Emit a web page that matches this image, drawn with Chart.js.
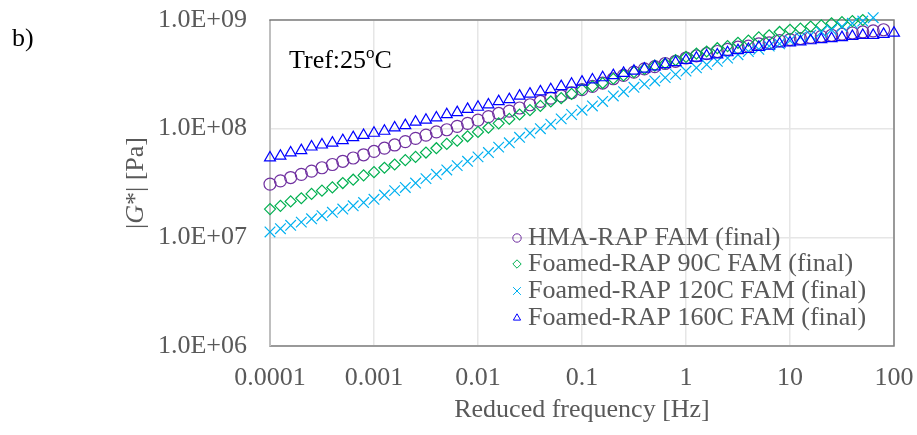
<!DOCTYPE html>
<html>
<head>
<meta charset="utf-8">
<script src="https://cdn.jsdelivr.net/npm/chart.js"></script>
<style>
  body { margin: 0; background: #fff; }
  canvas { display: block; }
</style>
</head>
<body>
<canvas id="gChart" width="917" height="435"></canvas>
<script>
// |G*| master curves, Tref 25C

const freq = [
  1.00e-4, 1.26e-4, 1.58e-4, 2.00e-4, 2.51e-4, 3.16e-4, 3.98e-4, 5.01e-4, 6.31e-4, 7.94e-4,
  1.00e-3, 1.26e-3, 1.58e-3, 2.00e-3, 2.51e-3, 3.16e-3, 3.98e-3, 5.01e-3, 6.31e-3, 7.94e-3,
  1.00e-2, 1.26e-2, 1.58e-2, 2.00e-2, 2.51e-2, 3.16e-2, 3.98e-2, 5.01e-2, 6.31e-2, 7.94e-2,
  1.00e-1, 1.26e-1, 1.58e-1, 2.00e-1, 2.51e-1, 3.16e-1, 3.98e-1, 5.01e-1, 6.31e-1, 7.94e-1,
  1.00, 1.26, 1.58, 2.00, 2.51, 3.16, 3.98, 5.01, 6.31, 7.94,
  10.0, 12.6, 15.8, 20.0, 25.1, 31.6, 39.8, 50.1, 63.1, 79.4,
  100
];

const hmaRap = [
  3.09e7, 3.31e7, 3.55e7, 3.80e7, 4.07e7, 4.37e7, 4.68e7, 5.01e7, 5.37e7, 5.75e7,
  6.17e7, 6.61e7, 7.08e7, 7.59e7, 8.13e7, 8.71e7, 9.33e7, 9.77e7, 1.05e8, 1.12e8,
  1.20e8, 1.29e8, 1.38e8, 1.45e8, 1.55e8, 1.66e8, 1.78e8, 1.91e8, 2.00e8, 2.14e8,
  2.29e8, 2.45e8, 2.63e8, 2.88e8, 3.09e8, 3.31e8, 3.55e8, 3.72e8, 3.98e8, 4.17e8,
  4.47e8, 4.68e8, 4.90e8, 5.13e8, 5.37e8, 5.62e8, 5.75e8, 6.03e8, 6.17e8, 6.46e8,
  6.61e8, 6.76e8, 6.92e8, 7.08e8, 7.24e8, 7.41e8, 7.59e8, 7.76e8, 7.94e8, 8.13e8,
  null
];

const foamed90 = [
  1.82e7, 1.95e7, 2.14e7, 2.29e7, 2.51e7, 2.69e7, 2.88e7, 3.16e7, 3.39e7, 3.72e7,
  3.98e7, 4.37e7, 4.68e7, 5.13e7, 5.50e7, 6.03e7, 6.61e7, 7.24e7, 7.76e7, 8.51e7,
  9.33e7, 1.02e8, 1.12e8, 1.23e8, 1.35e8, 1.48e8, 1.62e8, 1.78e8, 1.91e8, 2.09e8,
  2.29e8, 2.45e8, 2.63e8, 2.88e8, 3.09e8, 3.31e8, 3.55e8, 3.80e8, 3.98e8, 4.27e8,
  4.57e8, 4.90e8, 5.13e8, 5.50e8, 5.75e8, 6.17e8, 6.46e8, 6.92e8, 7.24e8, 7.76e8,
  8.13e8, 8.32e8, 8.71e8, 8.91e8, 9.33e8, 9.55e8, 9.77e8, 1.00e9, null, null,
  null
];

const foamed120 = [
  1.12e7, 1.20e7, 1.29e7, 1.38e7, 1.48e7, 1.58e7, 1.70e7, 1.82e7, 1.95e7, 2.09e7,
  2.24e7, 2.45e7, 2.69e7, 2.88e7, 3.16e7, 3.47e7, 3.80e7, 4.17e7, 4.57e7, 5.01e7,
  5.50e7, 6.03e7, 6.76e7, 7.41e7, 8.32e7, 9.12e7, 1.00e8, 1.10e8, 1.23e8, 1.35e8,
  1.48e8, 1.62e8, 1.78e8, 2.00e8, 2.19e8, 2.40e8, 2.57e8, 2.75e8, 2.95e8, 3.16e8,
  3.39e8, 3.63e8, 3.89e8, 4.17e8, 4.47e8, 4.79e8, 5.13e8, 5.37e8, 5.75e8, 6.03e8,
  6.46e8, 6.92e8, 7.24e8, 7.76e8, 8.13e8, 8.71e8, 9.33e8, 9.77e8, 1.05e9, null,
  null
];

const foamed160 = [
  5.40e7, 5.60e7, 6.00e7, 6.30e7, 6.80e7, 7.10e7, 7.40e7, 7.80e7, 8.30e7, 8.70e7,
  9.10e7, 9.50e7, 1.02e8, 1.07e8, 1.15e8, 1.20e8, 1.26e8, 1.35e8, 1.41e8, 1.51e8,
  1.58e8, 1.66e8, 1.78e8, 1.86e8, 2.00e8, 2.09e8, 2.19e8, 2.29e8, 2.45e8, 2.57e8,
  2.69e8, 2.82e8, 2.95e8, 3.09e8, 3.24e8, 3.39e8, 3.55e8, 3.72e8, 3.89e8, 4.07e8,
  4.27e8, 4.47e8, 4.68e8, 4.79e8, 5.01e8, 5.25e8, 5.37e8, 5.62e8, 5.75e8, 6.03e8,
  6.17e8, 6.31e8, 6.46e8, 6.61e8, 6.76e8, 6.92e8, 7.08e8, 7.24e8, 7.24e8, 7.41e8,
  7.59e8
];

const seriesLabels = [
  "HMA-RAP FAM (final)",
  "Foamed-RAP 90C FAM (final)",
  "Foamed-RAP 120C FAM (final)",
  "Foamed-RAP 160C FAM (final)"
];

const xTickValues = [1e-4, 1e-3, 1e-2, 1e-1, 1, 10, 100];
const xTickLabels = ["0.0001", "0.001", "0.01", "0.1", "1", "10", "100"];
const yTickValues = [1e6, 1e7, 1e8, 1e9];
const yTickLabels = ["1.0E+06", "1.0E+07", "1.0E+08", "1.0E+09"];

// === STYLE ===
const serif = "'Liberation Serif', 'Times New Roman', serif";
const gray = "#595959";
const colors = ["#7030A0", "#00B050", "#00B0F0", "#0000FF"];
const markers = ["circle", "rectRot", "crossRot", "triangle"];
const markerSize = [6, 5.5, 7.5, 6.3];

function toPoints(values) {
    const pts = [];
    values.forEach((v, i) => {
        if (v !== null) pts.push({ x: freq[i], y: v });
    });
    return pts;
}

const allSeries = [hmaRap, foamed90, foamed120, foamed160];

const datasets = allSeries.map((s, i) => ({
    label: seriesLabels[i],
    data: toPoints(s),
    showLine: false,
    pointStyle: markers[i],
    pointRadius: markerSize[i],
    pointHoverRadius: markerSize[i],
    borderColor: colors[i],
    backgroundColor: "rgba(0,0,0,0)",
    pointBorderWidth: 1.2,
    clip: false,
    order: 3 - i   // last series drawn on top, like Excel
}));

// === EXTRA DRAWING: border, y title, notes, legend ===
const decorations = {
    id: "decorations",
    beforeDatasetsDraw(chart) {
        const { ctx, chartArea: a } = chart;
        ctx.save();
        ctx.strokeStyle = "#7f7f7f";
        ctx.lineWidth = 1.5;
        ctx.strokeRect(a.left, a.top, a.right - a.left, a.bottom - a.top);
        ctx.strokeStyle = "#bfbfbf";
        ctx.lineWidth = 2;
        ctx.beginPath();
        ctx.moveTo(a.left, a.top + 1);
        ctx.lineTo(a.left, a.bottom);
        ctx.stroke();
        ctx.restore();
    },
    afterDraw(chart) {
        const { ctx, chartArea: a } = chart;
        ctx.save();

        // y axis title with italic G
        ctx.translate(136, (a.top + a.bottom) / 2);
        ctx.rotate(-Math.PI / 2);
        ctx.fillStyle = gray;
        ctx.textBaseline = "middle";
        const normal = "26px " + serif;
        const italic = "italic 26px " + serif;
        const parts = [["|", normal], ["G", italic], ["*| [Pa]", normal]];
        let total = 0;
        parts.forEach(p => { ctx.font = p[1]; total += ctx.measureText(p[0]).width; });
        let px = -total / 2;
        parts.forEach(p => {
            ctx.font = p[1];
            ctx.fillText(p[0], px, 0);
            px += ctx.measureText(p[0]).width;
        });
        ctx.setTransform(1, 0, 0, 1, 0, 0);

        // panel letter
        ctx.fillStyle = "#000";
        ctx.textBaseline = "alphabetic";
        ctx.font = "26px " + serif;
        ctx.fillText("b)", 12, 46);

        // reference temperature note
        let tx = 289;
        ctx.fillText("Tref:25", tx, 68);
        tx += ctx.measureText("Tref:25").width;
        ctx.font = "17px " + serif;
        ctx.fillText("o", tx, 58);
        tx += ctx.measureText("o").width;
        ctx.font = "26px " + serif;
        ctx.fillText("C", tx, 68);

        // legend
        const rows = [238, 264, 291, 318];
        ctx.textBaseline = "middle";
        seriesLabels.forEach((lab, i) => {
            ctx.strokeStyle = colors[i];
            ctx.fillStyle = "rgba(0,0,0,0)";
            ctx.lineWidth = 1;
            Chart.helpers.drawPoint(ctx, {
                pointStyle: markers[i], radius: i === 2 ? 5.5 : 4.2, rotation: 0, borderWidth: 1
            }, 517, rows[i]);
            ctx.fillStyle = gray;
            ctx.font = "26px " + serif;
            ctx.fillText(lab, 528, rows[i]);
        });

        ctx.restore();
    }
};

// === CHART ===
function initChart() {
    const ctx = document.getElementById("gChart");
    new Chart(ctx, {
        type: "scatter",
        data: { datasets },
        options: {
            responsive: false,
            animation: false,
            devicePixelRatio: 1,
            layout: { padding: { top: 20, right: 23, left: 0, bottom: 0 } },
            plugins: {
                legend: { display: false },
                tooltip: { enabled: false }
            },
            scales: {
                x: {
                    type: "logarithmic",
                    min: 1e-4,
                    max: 100,
                    afterBuildTicks: s => { s.ticks = xTickValues.map(v => ({ value: v })); },
                    afterFit: s => { s.height = 89; },
                    ticks: {
                        callback: (v, i) => xTickLabels[i],
                        font: { family: serif, size: 26 },
                        color: gray,
                        padding: 0,
                        maxRotation: 0,
                        autoSkip: false
                    },
                    grid: { color: "#e6e6e6", lineWidth: 1.5, drawTicks: true, tickLength: 17, tickColor: "rgba(0,0,0,0)" },
                    border: { display: false },
                    title: {
                        display: true,
                        text: "Reduced frequency [Hz]",
                        font: { family: serif, size: 26 },
                        color: gray,
                        padding: { top: 0, bottom: 9 }
                    }
                },
                y: {
                    type: "logarithmic",
                    min: 1e6,
                    max: 1e9,
                    afterBuildTicks: s => { s.ticks = yTickValues.map(v => ({ value: v })); },
                    afterFit: s => { s.width = 270; },
                    ticks: {
                        callback: (v, i) => yTickLabels[i],
                        font: { family: serif, size: 26 },
                        color: gray,
                        padding: 0,
                        autoSkip: false
                    },
                    grid: { color: "#e6e6e6", lineWidth: 1.5, drawTicks: true, tickLength: 23, tickColor: "rgba(0,0,0,0)" },
                    border: { display: false },
                    title: { display: false }
                }
            }
        },
        plugins: [decorations]
    });
}

document.addEventListener("DOMContentLoaded", initChart);
</script>
</body>
</html>
